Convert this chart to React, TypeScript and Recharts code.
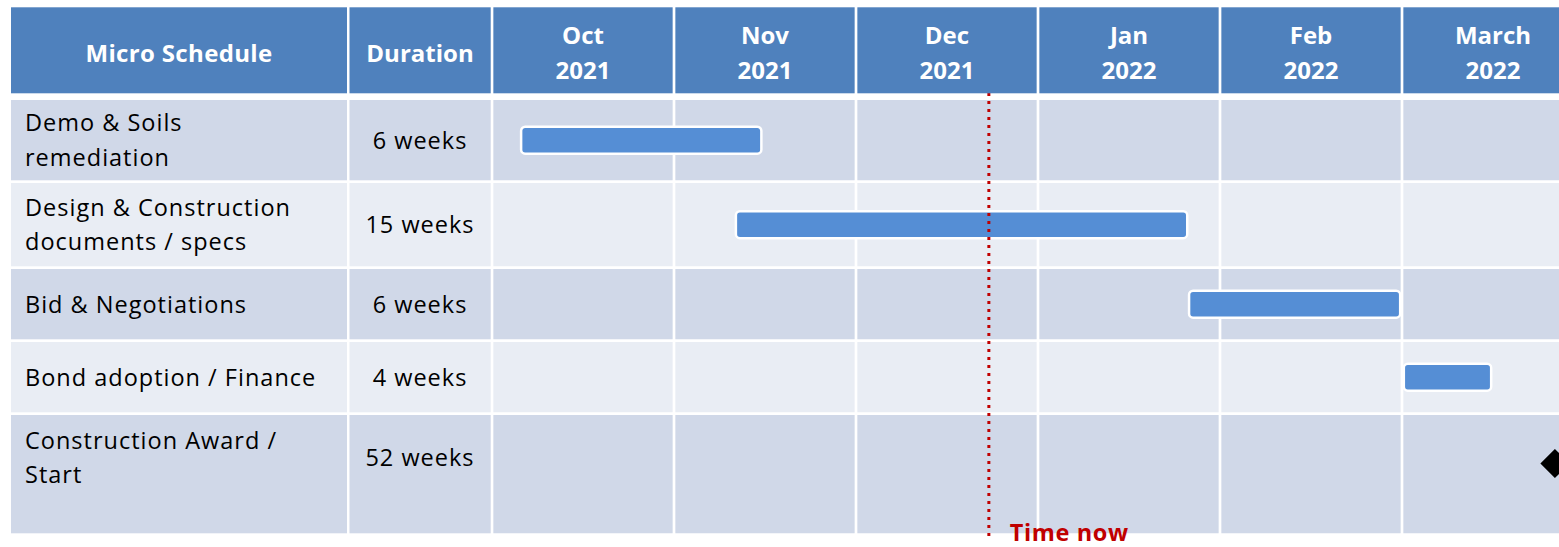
import React from 'react';
import { ComposedChart, Bar, XAxis, YAxis, ReferenceArea, ReferenceLine, ReferenceDot, Customized } from 'recharts';

// schedule data (time unit = months after 1 Oct 2021)
const taskNames = ['Demo & Soils\nremediation', 'Design & Construction\ndocuments / specs', 'Bid & Negotiations', 'Bond adoption / Finance', 'Construction Award /\nStart'];
const durations = ['6 weeks', '15 weeks', '6 weeks', '4 weeks', '52 weeks'];
const taskStart = [0.16, 1.34, 3.83, 5.01, null];
const taskEnd = [1.48, 3.82, 4.99, 5.49, null];
const milestoneAt = [null, null, null, null, 5.84];
const monthLabels = ['Oct\n2021', 'Nov\n2021', 'Dec\n2021', 'Jan\n2022', 'Feb\n2022', 'March\n2022'];
const monthTicks = [0.5, 1.5, 2.5, 3.5, 4.5, 5.5];
const timeNow = 2.73;

// layout
const FONT = '"Open Sans", Lato, sans-serif';
const HEADER = '#4F81BD';
const ROW_DARK = '#D0D8E8';
const ROW_LIGHT = '#E9EDF4';
const BAR = '#558ED5';
const RED = '#C00000';
const W = 1584;
const H = 547;
const TOP = 7;
const HEAD_H = 86;
const LEFT_W = 492;
const MONTH_W = (W - LEFT_W) / 6;
const GAP = 2.7;
const G = GAP / MONTH_W / 2;
const rowHeights = [83, 86, 73, 73, 121];
const rowTops = rowHeights.map((_, i) => rowHeights.slice(0, i).reduce((a, b) => a + b, 0));
const rowCenters = rowTops.map((t, i) => t + Math.min(rowHeights[i] - GAP, 85) / 2);
const Y_MIN = -7;
const Y_MAX = 438;
const months = [0, 1, 2, 3, 4, 5];

const rows = taskNames.map((name, i) => ({
  y: rowCenters[i],
  range: taskStart[i] != null ? [taskStart[i], taskEnd[i]] : null,
}));

const rowFill = (i: number) => (i % 2 === 0 ? ROW_DARK : ROW_LIGHT);

const MonthTick = ({ x, payload }: any) => {
  const i = Math.floor(payload.value);
  const [m, yr] = monthLabels[i].split('\n');
  const cw = MONTH_W - GAP;
  return (
    <g>
      <rect x={x - cw / 2} y={TOP + 0.3} width={cw} height={HEAD_H} fill={HEADER} />
      <text x={x} y={44} textAnchor="middle" fill="#fff" fontFamily={FONT} fontWeight="bold" fontSize={24}>{m}</text>
      <text x={x} y={79} textAnchor="middle" fill="#fff" fontFamily={FONT} fontWeight="bold" fontSize={24}>{yr}</text>
    </g>
  );
};

const TaskTick = ({ y, index }: any) => {
  const top = y - (rowCenters[index] - rowTops[index]);
  const h = rowHeights[index] - GAP;
  const lines = taskNames[index].split('\n');
  const first = lines.length > 1 ? y + 8.5 - 17.25 : y + 8.5;
  return (
    <g>
      <rect x={11} y={top} width={336} height={h} fill={rowFill(index)} />
      <rect x={349.5} y={top} width={141.2} height={h} fill={rowFill(index)} />
      {lines.map((ln, k) => (
        <text key={k} x={25} y={first + k * 34.5} fill="#000" fontFamily={FONT} fontSize={23.5} letterSpacing={1}>{ln}</text>
      ))}
      <text x={420} y={y + 8.5} textAnchor="middle" fill="#000" fontFamily={FONT} fontSize={23.5} letterSpacing={1}>{durations[index]}</text>
    </g>
  );
};

const LeftHeader = () => (
  <g>
    <rect x={11} y={TOP + 0.3} width={336} height={HEAD_H} fill={HEADER} />
    <rect x={349.5} y={TOP + 0.3} width={141.2} height={HEAD_H} fill={HEADER} />
    <text x={179} y={61.7} textAnchor="middle" fill="#fff" fontFamily={FONT} fontWeight="bold" fontSize={24} letterSpacing={0.35}>Micro Schedule</text>
    <text x={420} y={61.7} textAnchor="middle" fill="#fff" fontFamily={FONT} fontWeight="bold" fontSize={24}>Duration</text>
  </g>
);

const NowLabel = ({ viewBox }: any) => (
  <text x={viewBox.x + 21} y={viewBox.y + viewBox.height + 3} fill={RED} fontFamily={FONT} fontWeight="bold" fontSize={23.5} letterSpacing={0.6}>Time now</text>
);

const Diamond = ({ cx, cy }: any) => (
  <polygon points={`${cx - 14.5},${cy} ${cx},${cy - 14.5} ${cx + 14.5},${cy} ${cx},${cy + 14.5}`} fill="#000" />
);

export default function App() {
  return (
    <div style={{ position: 'absolute', left: 0, top: 0, width: 1559, height: H, overflow: 'hidden', background: '#fff' }}>
      <ComposedChart width={W} height={H} data={rows} layout="vertical" margin={{ top: TOP, right: 0, bottom: H - TOP - HEAD_H - (Y_MAX - Y_MIN), left: 0 }}>
        <XAxis type="number" domain={[0, 6]} allowDataOverflow orientation="top" height={HEAD_H} ticks={monthTicks} interval={0} tick={<MonthTick />} tickLine={false} axisLine={false} />
        <YAxis type="number" dataKey="y" domain={[Y_MIN, Y_MAX]} allowDataOverflow width={LEFT_W} ticks={rowCenters} interval={0} tick={<TaskTick />} tickLine={false} axisLine={false} />
        {rowTops.map((t, i) =>
          months.map((m) => (
            <ReferenceArea key={'c' + i + '-' + m} x1={m + G} x2={m + 1 - G} y1={t} y2={t + rowHeights[i] - GAP} fill={rowFill(i)} fillOpacity={1} stroke="none" />
          ))
        )}
        <Bar dataKey="range" barSize={27} fill={BAR} stroke="#fff" strokeWidth={2.5} radius={4} isAnimationActive={false} />
        {milestoneAt.map((v, i) => (v != null ? <ReferenceDot key={'d' + i} x={v} y={rowCenters[i] + 6} r={14.5} shape={<Diamond />} /> : null))}
        <ReferenceLine x={timeNow} stroke={RED} strokeWidth={3} strokeDasharray="3 5" label={<NowLabel />} />
        <Customized component={<LeftHeader />} />
      </ComposedChart>
    </div>
  );
}
